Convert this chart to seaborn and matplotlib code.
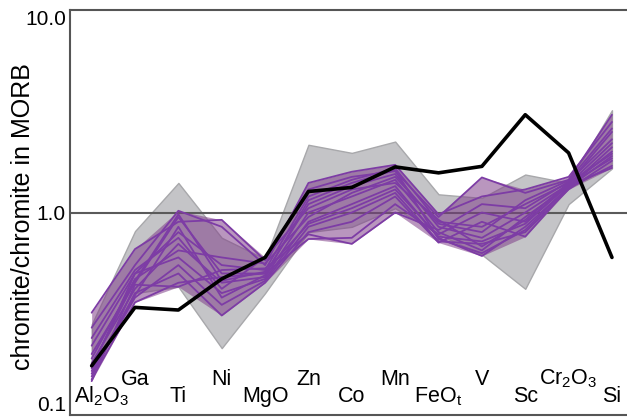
import numpy as np
import pandas as pd
import matplotlib
matplotlib.use("Agg")
from matplotlib import pyplot as plt
import seaborn as sns

# element order along the x axis
categories = [r'Al$_\mathregular{2}$O$_\mathregular{3}$', 'Ga', 'Ti', 'Ni', 'MgO', 'Zn', 'Co',
              'Mn', r'FeO$_\mathregular{t}$', 'V', 'Sc', r'Cr$_\mathregular{2}$O$_\mathregular{3}$', 'Si']

# reference chromite (black line)
reference = [0.175, 0.34, 0.33, 0.47, 0.60, 1.27, 1.33, 1.68, 1.57, 1.69, 3.04, 1.97, 0.60]

# grey field (min / max)
grey_low = [0.17, 0.40, 0.43, 0.214, 0.40, 0.80, 0.85, 1.05, 0.78, 0.62, 0.42, 1.10, 1.65]
grey_high = [0.28, 0.81, 1.40, 0.75, 0.59, 2.16, 1.97, 2.24, 1.23, 1.18, 1.54, 1.40, 3.20]

# individual chromite analyses (purple lines)
s01 = [0.32, 0.66, 0.90, 0.92, 0.58, 1.30, 1.50, 1.60, 0.95, 1.49, 1.25, 1.45, 3.04]
s02 = [0.27, 0.55, 1.02, 0.85, 0.55, 1.40, 1.59, 1.72, 0.98, 1.20, 1.30, 1.50, 2.80]
s03 = [0.22, 0.50, 0.80, 0.55, 0.52, 1.20, 1.45, 1.65, 0.90, 0.85, 1.10, 1.40, 2.50]
s04 = [0.20, 0.45, 0.95, 0.50, 0.50, 1.10, 1.35, 1.55, 0.85, 0.75, 1.00, 1.38, 2.20]
s05 = [0.18, 0.42, 0.70, 0.45, 0.48, 1.00, 1.20, 1.45, 0.80, 0.65, 0.95, 1.35, 2.00]
s06 = [0.17, 0.50, 0.60, 0.40, 0.47, 0.90, 1.10, 1.35, 0.75, 0.61, 0.85, 1.33, 1.90]
s07 = [0.16, 0.38, 0.55, 0.35, 0.46, 0.85, 1.00, 1.25, 0.72, 0.70, 0.80, 1.30, 1.80]
s08 = [0.155, 0.40, 0.50, 0.31, 0.45, 0.80, 0.90, 1.20, 0.71, 0.90, 0.76, 1.32, 1.70]
s09 = [0.15, 0.36, 0.45, 0.48, 0.50, 0.74, 0.75, 1.10, 0.78, 1.00, 0.90, 1.36, 1.66]
s10 = [0.147, 0.44, 0.43, 0.52, 0.53, 0.78, 0.70, 1.00, 0.82, 1.10, 1.05, 1.42, 2.30]
s11 = [0.19, 0.47, 0.65, 0.60, 0.56, 0.95, 1.25, 1.50, 0.88, 0.80, 1.15, 1.44, 2.60]
s12 = [0.24, 0.52, 0.75, 0.42, 0.60, 1.05, 1.30, 1.40, 0.92, 0.68, 0.92, 1.40, 1.95]
s13 = [0.165, 0.39, 0.85, 0.38, 0.49, 1.15, 1.40, 1.62, 0.74, 0.63, 0.82, 1.34, 2.10]
s14 = [0.175, 0.46, 0.98, 0.46, 0.51, 0.88, 1.05, 1.30, 0.76, 0.72, 0.88, 1.37, 1.85]
samples = [s01, s02, s03, s04, s05, s06, s07, s08, s09, s10, s11, s12, s13, s14]

sns.set_style("white")
plt.rcParams['font.family'] = ['Liberation Sans', 'DejaVu Sans']
plt.rcParams['mathtext.fontset'] = 'custom'
plt.rcParams['mathtext.rm'] = 'Liberation Sans'
plt.rcParams['text.color'] = 'black'
plt.rcParams['axes.labelcolor'] = 'black'
plt.rcParams['ytick.color'] = 'black'

pos = np.arange(len(categories))
df = pd.DataFrame([(i, p, v) for i, s in enumerate(samples) for p, v in zip(pos, s)],
                  columns=['sample', 'pos', 'value'])

fig = plt.figure(figsize=(6.27, 4.19), dpi=100)
ax = fig.add_axes([0.1116, 0.0095, 0.899, 0.9666])
ax.set_yscale('log')

purple = '#7d3ca5'
ax.fill_between(pos, grey_low, grey_high, color='#c4c4c7', edgecolor='#a8a8ab', lw=1, zorder=1)
ax.axhline(1.0, color='#5a5a5a', lw=1.5, zorder=1.5)
arr = np.array(samples)
ax.fill_between(pos, arr.min(axis=0), arr.max(axis=0), color='#804089', alpha=0.55, lw=0, zorder=2)
sns.lineplot(data=df, x='pos', y='value', units='sample', estimator=None, color=purple,
             lw=1.3, ax=ax, zorder=4)
sns.lineplot(x=pos, y=reference, color='black', lw=2.6, ax=ax, zorder=5)

ax.set_xlim(-0.5, 12.5)
ax.set_ylim(0.1, 10)
ax.set_yticks([0.1, 1, 10])
ax.set_yticklabels(['0.1', '1.0', '10.0'])
ax.yaxis.set_minor_locator(matplotlib.ticker.NullLocator())
ax.tick_params(axis='y', length=0, pad=3, labelsize=15, labelcolor='black')
ylabels = ax.get_yticklabels()
ylabels[0].set_va('bottom')
ylabels[2].set_va('top')
ax.set_xticks(pos)
ax.set_xticklabels([])
ax.tick_params(axis='x', direction='in', length=4, width=1, color='#555555')
ax.set_xlabel('')
ax.set_ylabel('chromite/chromite in MORB', fontsize=18, color='black')
ax.yaxis.set_label_coords(-0.062, 0.49)

for i, lab in enumerate(categories):
    x = 0.22 if i == 0 else i
    y = 0.116 if i % 2 == 0 else 0.141
    ax.text(x, y, lab, ha='center', va='baseline', fontsize=15.5, color='black')

for sp in ['left', 'top', 'bottom']:
    ax.spines[sp].set_color('#555555')
    ax.spines[sp].set_linewidth(1.5)
ax.spines['right'].set_visible(False)

fig.savefig('out.png', dpi=100)
